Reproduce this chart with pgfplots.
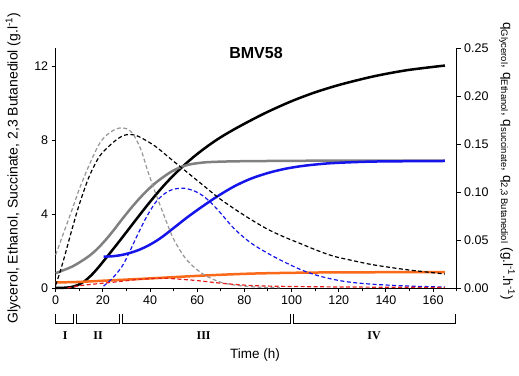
\documentclass[border=0pt]{standalone}
\usepackage{pgfplots}
\pgfplotsset{compat=1.18}
\usepackage{fontspec}
\setmainfont{Liberation Sans}
\newfontfamily\timesfont{Liberation Serif}
\definecolor{cgrey}{RGB}{128,128,128}
\definecolor{cgreyd}{RGB}{150,150,150}
\definecolor{cblue}{RGB}{20,20,235}
\definecolor{corange}{RGB}{250,105,25}
\definecolor{cred}{RGB}{230,30,30}
\begin{document}
\begin{tikzpicture}
\useasboundingbox (0,0) rectangle (519pt,-375pt);
\pgfplotsset{
  common/.style={
    at={(55.7pt,-288pt)}, anchor=south west,
    width=401pt, height=240pt, scale only axis,
    xmin=0, xmax=170,
    tick align=outside,
    major tick length=4pt, minor tick length=3pt,
    tick style={line width=1pt, black},
    axis line style={line width=1pt},
    /pgf/number format/assume math mode=true,
    ticklabel style={font=\fontsize{12.5}{14}\selectfont},
    clip=false,
  },
  dsh/.style={line width=1.2pt, dash pattern=on 4pt off 2.5pt, smooth},
  sld/.style={line width=2.5pt, smooth},
}
\begin{axis}[common,
  axis x line*=bottom, axis y line*=left,
  ymin=0, ymax=13,
  xtick={0,20,...,160}, minor xtick={10,30,...,170},
  ytick={0,4,8,12},
]
% Black solid
\addplot[black, sld] coordinates {
(0,0)(3,0.01)(6,0.04)(9,0.14)(12,0.35)(15,0.68)(18,1.1)(21,1.57)(24.5,2.13)(28,2.7)(31.5,3.28)(35,3.86)(38.5,4.43)(42,4.98)(45.5,5.5)(49,5.98)(52.5,6.42)(56,6.83)(60,7.26)(65,7.74)(70,8.17)(76,8.62)(83,9.1)(90,9.55)(100,10.12)(110,10.6)(121,11.03)(135,11.47)(149,11.8)(165,12.05)};
% Grey solid
\addplot[cgrey, sld] coordinates {
(0,0.8)(4,1.0)(7,1.16)(10,1.38)(14,1.72)(17.5,2.1)(21,2.58)(24.5,3.12)(28,3.7)(31.5,4.26)(35,4.78)(38.5,5.25)(42,5.66)(45.5,6.0)(49,6.3)(52.5,6.52)(56,6.67)(60,6.76)(65,6.82)(75,6.86)(90,6.88)(120,6.9)(165,6.9)};
% Blue solid
\addplot[cblue, sld] coordinates {
(20.3,1.7)(24,1.72)(28,1.79)(32,1.92)(35,2.05)(38.5,2.25)(42,2.5)(45.5,2.8)(49,3.15)(52.5,3.5)(56,3.85)(62,4.4)(68.5,4.96)(75.6,5.5)(82.7,5.92)(90,6.23)(97,6.45)(104,6.6)(111,6.7)(118,6.77)(135,6.85)(165,6.88)};
% Orange solid
\addplot[corange, sld] coordinates {
(0,0.3)(10,0.33)(21,0.4)(40,0.52)(62,0.67)(83,0.78)(104,0.83)(125,0.85)(165,0.86)};
% phase brackets
\draw[line width=1.1pt] (axis cs:0,-1.42) -- (axis cs:0,-1.9) -- (axis cs:7.4,-1.9) -- (axis cs:7.4,-1.42);
\draw[line width=1.1pt] (axis cs:8.7,-1.42) -- (axis cs:8.7,-1.9) -- (axis cs:27.1,-1.9) -- (axis cs:27.1,-1.42);
\draw[line width=1.1pt] (axis cs:28.3,-1.42) -- (axis cs:28.3,-1.9) -- (axis cs:99.6,-1.9) -- (axis cs:99.6,-1.42);
\draw[line width=1.1pt] (axis cs:100.7,-1.42) -- (axis cs:100.7,-1.9) -- (axis cs:169.5,-1.9) -- (axis cs:169.5,-1.42);
\node[font=\timesfont\bfseries\fontsize{12}{14}\selectfont] at (axis cs:4,-2.6) {I};
\node[font=\timesfont\bfseries\fontsize{12}{14}\selectfont] at (axis cs:18,-2.6) {II};
\node[font=\timesfont\bfseries\fontsize{12}{14}\selectfont] at (axis cs:62.7,-2.6) {III};
\node[font=\timesfont\bfseries\fontsize{12}{14}\selectfont] at (axis cs:135,-2.6) {IV};
\end{axis}
\begin{axis}[common,
  axis x line=none, axis y line*=right,
  ymin=0, ymax=0.25,
  ytick={0,0.05,...,0.25},
  yticklabel style={/pgf/number format/.cd, fixed, fixed zerofill, precision=2},
]
% Black dashed
\addplot[black, dsh] coordinates {
(0,0.003)(2,0.018)(4,0.035)(7,0.062)(10,0.087)(14,0.115)(18,0.135)(21,0.144)(25,0.153)(28,0.158)(31,0.160)(35,0.158)(42,0.148)(49,0.134)(56,0.12)(63,0.106)(69,0.094)(76,0.082)(83,0.071)(90,0.061)(97,0.053)(104,0.046)(111,0.039)(118,0.033)(127,0.028)(135,0.024)(149,0.019)(165,0.0146)};
% Grey dashed
\addplot[cgreyd, dsh] coordinates {
(0,0.0345)(3,0.055)(7,0.082)(10,0.103)(14,0.127)(18,0.148)(21,0.158)(25,0.165)(28,0.167)(30,0.166)(32.3,0.162)(34.5,0.153)(36.6,0.141)(39,0.122)(42.3,0.099)(46,0.075)(49.4,0.054)(53,0.038)(56.4,0.027)(61,0.017)(65,0.011)(70,0.006)(76,0.003)(85,0.001)(95,0.0003)};
% Blue dashed
\addplot[cblue, dsh] coordinates {
(20.3,0.002)(24,0.01)(28,0.022)(31,0.036)(35,0.057)(38.5,0.074)(42.3,0.089)(46,0.098)(49.4,0.1025)(54.3,0.104)(59.3,0.1005)(63.5,0.094)(68.5,0.082)(75.6,0.062)(82.7,0.047)(90,0.036)(97,0.027)(104,0.019)(111,0.013)(118,0.0088)(125,0.006)(135,0.0038)(150,0.002)(165,0.001)};
% Red dashed
\addplot[cred, dsh] coordinates {
(5,0)(8,0.0015)(12,0.003)(18,0.0045)(25,0.0062)(32,0.0082)(40,0.0098)(46,0.0102)(52,0.0093)(60,0.0077)(70,0.005)(80,0.003)(90,0.002)(110,0.0013)(140,0.0008)(165,0.0006)};
\end{axis}
\node[font=\bfseries\fontsize{16}{18}\selectfont] at (256pt,-53pt) {BMV58};
\node[rotate=90, font=\fontsize{14}{16}\selectfont] at (13pt,-168pt) {Glycerol, Ethanol, Succinate, 2,3 Butanediol (g.l\textsuperscript{-1})};
\node[rotate=-90, font=\fontsize{13.5}{16}\selectfont] at (507pt,-161pt) {q\textsubscript{Glycerol}, q\textsubscript{Ethanol}, q\textsubscript{succinate}, q\textsubscript{2,3 Butanediol} (g.l\textsuperscript{-1}.h\textsuperscript{-1})};
\node[font=\fontsize{13.5}{15}\selectfont] at (255pt,-355pt) {Time (h)};
\end{tikzpicture}
\end{document}
